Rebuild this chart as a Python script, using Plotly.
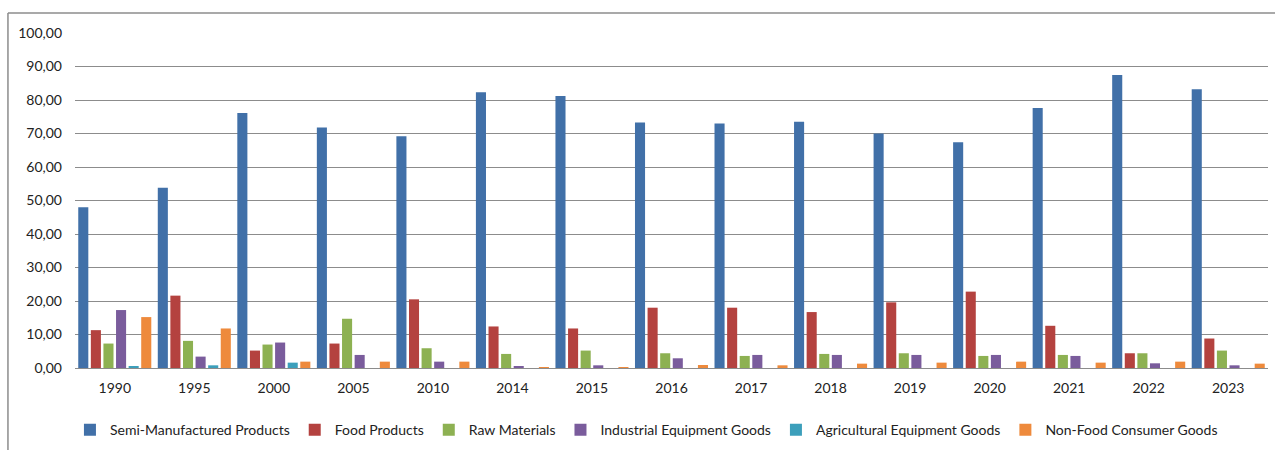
import plotly.graph_objects as go

years = ["1990", "1995", "2000", "2005", "2010", "2014", "2015", "2016",
         "2017", "2018", "2019", "2020", "2021", "2022", "2023"]

semi_manufactured = [48.0, 53.8, 76.1, 71.8, 69.2, 82.3, 81.2, 73.3, 73.0, 73.5, 70.0, 67.4, 77.6, 87.5, 83.2]
food_products = [11.3, 21.6, 5.2, 7.3, 20.5, 12.4, 11.8, 18.0, 18.0, 16.7, 19.6, 22.8, 12.6, 4.4, 8.8]
raw_materials = [7.3, 8.1, 7.0, 14.7, 5.9, 4.2, 5.2, 4.4, 3.6, 4.2, 4.4, 3.6, 3.9, 4.4, 5.2]
industrial_equipment = [17.3, 3.4, 7.6, 3.9, 1.9, 0.6, 0.8, 2.9, 3.9, 3.9, 3.9, 3.9, 3.6, 1.4, 0.8]
agricultural_equipment = [0.6, 0.8, 1.6, 0, 0, 0, 0, 0, 0, 0, 0, 0, 0, 0, 0]
non_food_consumer = [15.2, 11.8, 1.9, 1.9, 1.9, 0.3, 0.3, 0.9, 0.8, 1.3, 1.6, 1.9, 1.6, 1.9, 1.3]

series_names = ["Semi-Manufactured Products", "Food Products", "Raw Materials",
                "Industrial Equipment Goods", "Agricultural Equipment Goods",
                "Non-Food Consumer Goods"]
series_values = [semi_manufactured, food_products, raw_materials,
                 industrial_equipment, agricultural_equipment, non_food_consumer]
colors = ["#4170A8", "#B4423F", "#8DB152", "#7A5C9C", "#3C9FBB", "#EE8A3C"]

y_tick_vals = [0, 10, 20, 30, 40, 50, 60, 70, 80, 90, 100]
y_tick_text = ["0,00", "10,00", "20,00", "30,00", "40,00", "50,00",
               "60,00", "70,00", "80,00", "90,00", "100,00"]

fig = go.Figure()
for name, vals, col in zip(series_names, series_values, colors):
    fig.add_trace(go.Bar(x=years, y=vals, name=name, marker=dict(color=col, line=dict(width=0))))

font = dict(family="Lato, Open Sans, sans-serif", size=14, color="#222222")

fig.update_layout(
    width=1275, height=450,
    margin=dict(l=75, r=7, t=33, b=82, autoexpand=False),
    paper_bgcolor="white", plot_bgcolor="white",
    barmode="group", bargap=0.05, bargroupgap=0.2,
    font=font,
    showlegend=True,
    legend=dict(orientation="h", x=0.479, xanchor="center", y=-0.138, yanchor="top",
                font=font, itemwidth=30, traceorder="normal"),
    xaxis=dict(type="category", showgrid=False, showline=True, linecolor="#8C8C8C",
               linewidth=1, ticks="", ticklabelstandoff=7, tickfont=font, automargin=False),
    yaxis=dict(range=[0, 100], tickvals=y_tick_vals, ticktext=y_tick_text,
               showgrid=True, gridcolor="#8C8C8C", gridwidth=1, zeroline=False,
               showline=False, ticks="", ticklabelstandoff=12, tickfont=font, automargin=False),
    shapes=[
        dict(type="line", xref="paper", yref="paper", x0=-0.0562, x1=1.01, y0=1.0597, y1=1.0597,
             line=dict(color="#8C8C8C", width=1.5)),
        dict(type="line", xref="paper", yref="paper", x0=-0.0562, x1=-0.0562, y0=1.0597, y1=-0.25,
             line=dict(color="#8C8C8C", width=1.5)),
    ],
)

fig.write_html("out.html")
